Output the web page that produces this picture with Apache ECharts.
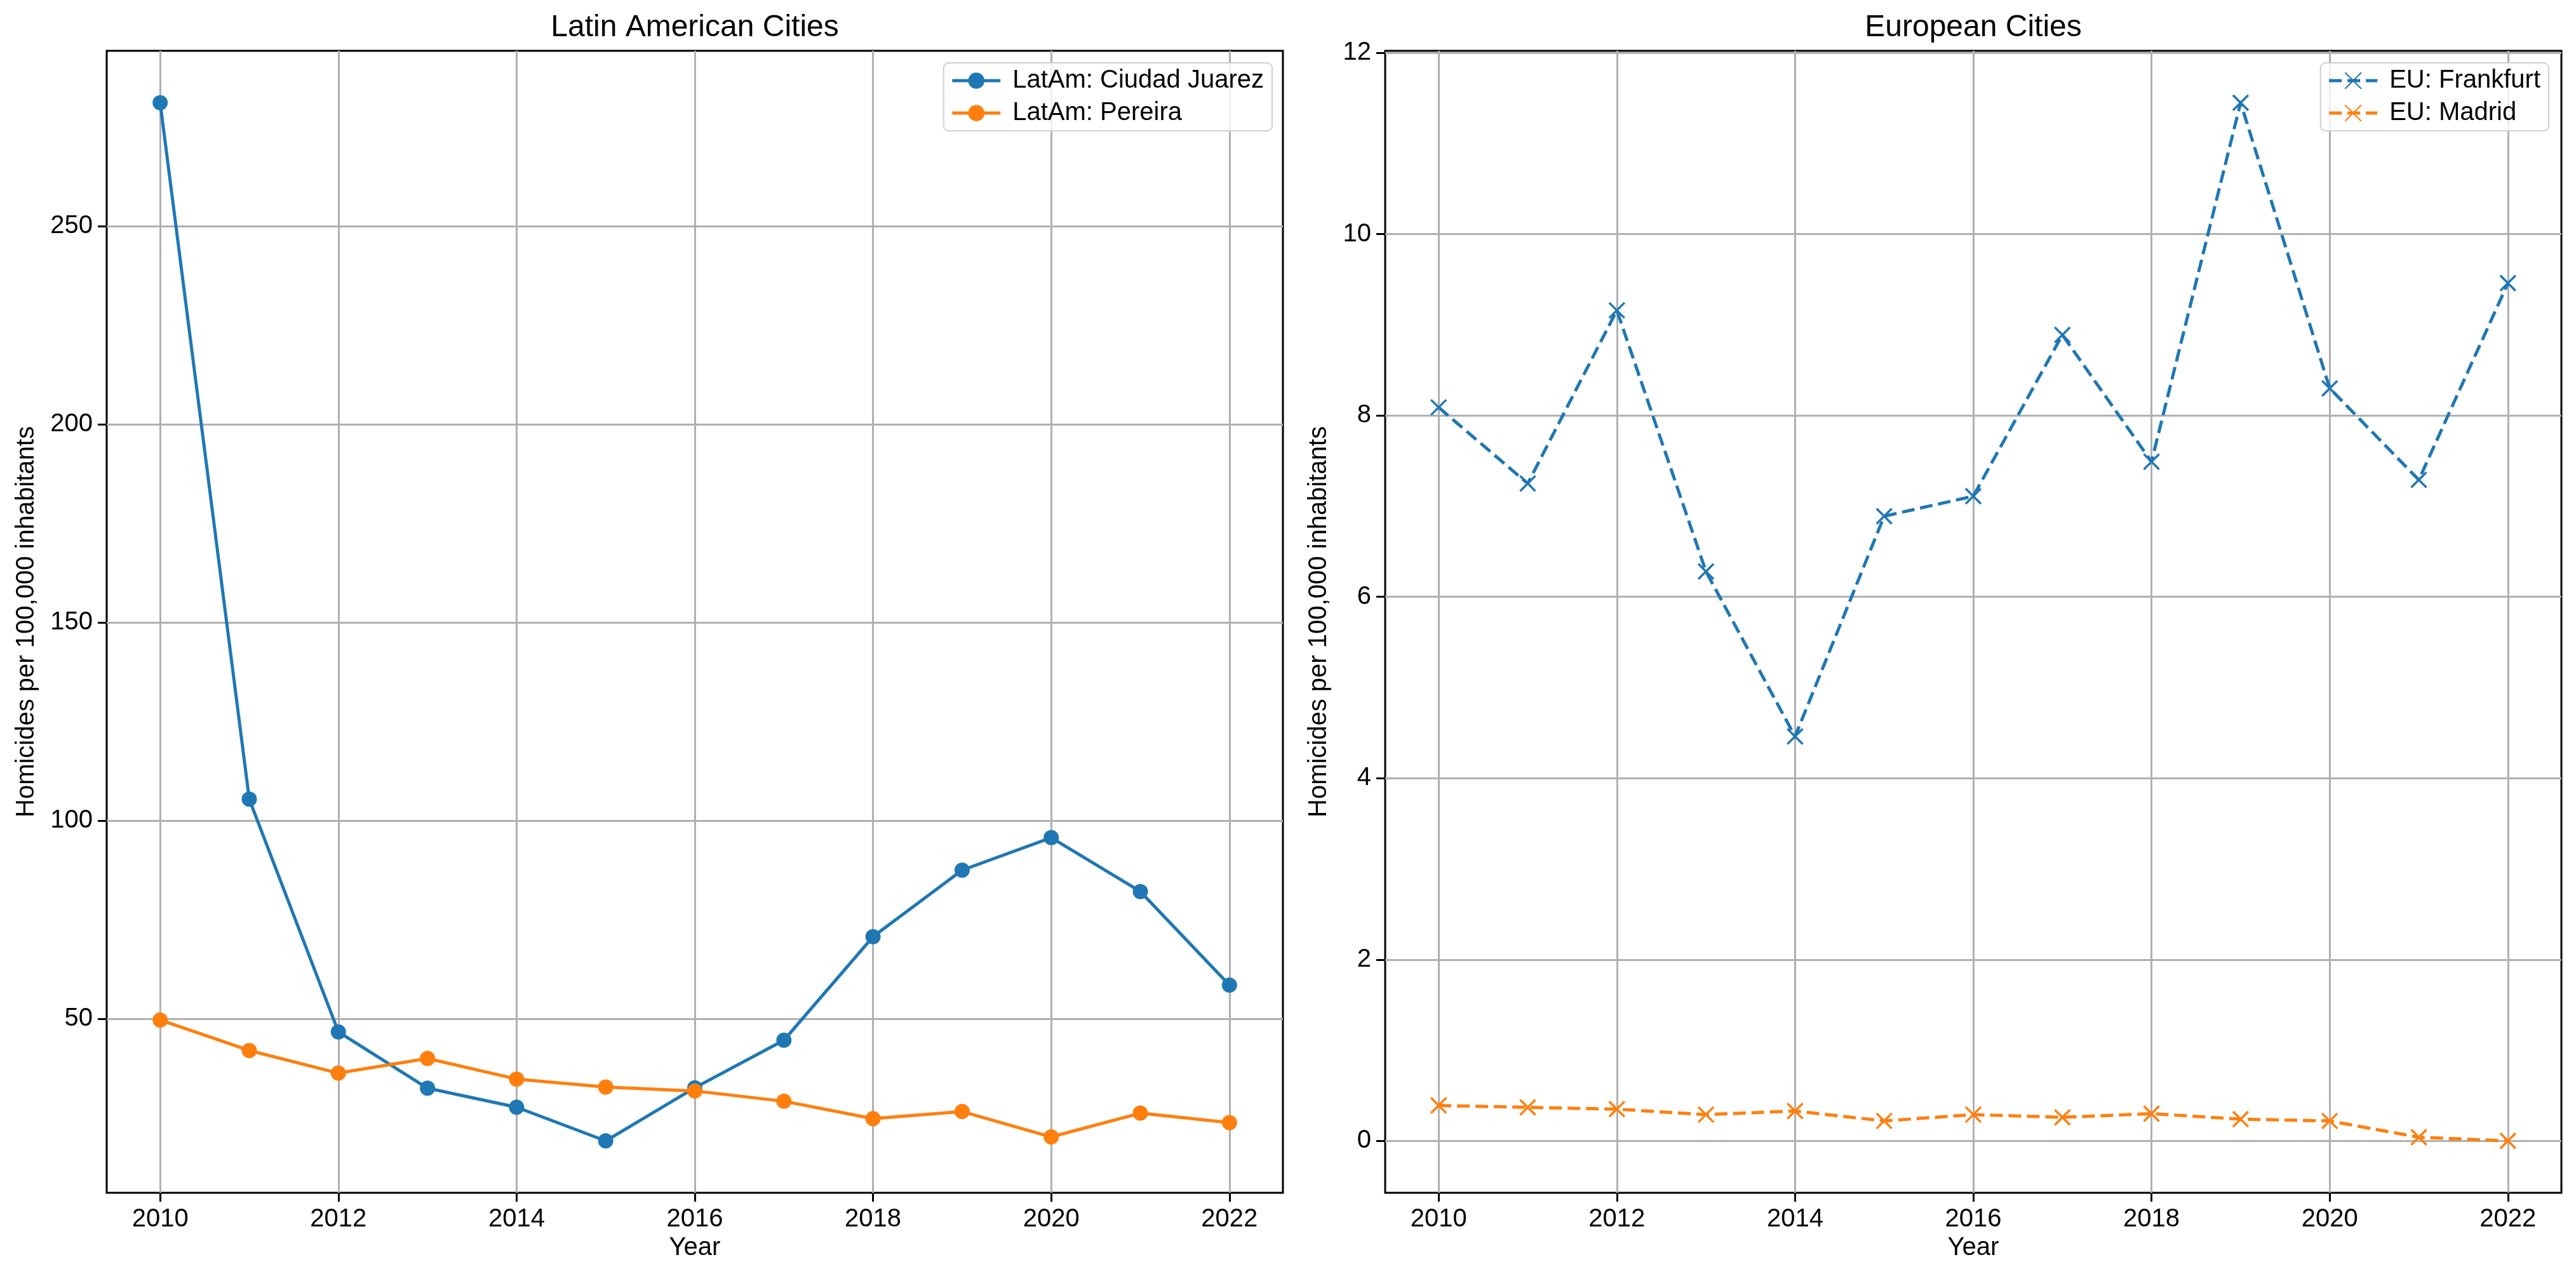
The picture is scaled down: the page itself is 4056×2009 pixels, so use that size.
<!DOCTYPE html>
<html>
<head>
<meta charset="utf-8">
<script src="https://cdn.jsdelivr.net/npm/echarts@6/dist/echarts.min.js"></script>
<style>
html,body{margin:0;padding:0;background:#fff;}
#c{width:4056px;height:2009px;}
</style>
</head>
<body>
<div id="c"></div>
<script>
const years = [2010,2011,2012,2013,2014,2015,2016,2017,2018,2019,2020,2021,2022];
const xTicks = [2010,2012,2014,2016,2018,2020,2022];
const juarez = [281.1,105.4,46.7,32.5,27.7,19.2,32.6,44.6,70.7,87.5,95.7,82.1,58.5];
const pereira = [49.7,42.0,36.3,40.0,34.8,32.8,31.8,29.2,24.8,26.6,20.2,26.2,23.8];
const frankfurt = [8.09,7.25,9.16,6.28,4.46,6.89,7.11,8.89,7.49,11.45,8.30,7.29,9.46];
const madrid = [0.39,0.37,0.35,0.29,0.33,0.22,0.29,0.26,0.30,0.24,0.22,0.04,0.00];
const yTicksLeft = [50,100,150,200,250];
const yTicksRight = [0,2,4,6,8,10,12];

const BLUE = '#1f77b4', ORANGE = '#ff7f0e';
const FONT = 'Liberation Sans';

function bounds(arrs){
  const all = [].concat(...arrs);
  const mn = Math.min(...all), mx = Math.max(...all);
  const m = (mx - mn) * 0.05;
  return [mn - m, mx + m];
}
const xb = bounds([years]);
const yl = bounds([juarez, pereira]);
const yr = bounds([frankfurt, madrid]);

const pairs = (ys) => years.map((y,i)=>[y, ys[i]]);
const XMARK = 'path://M0,0L10,10M10,0L0,10';

function xAxisDef(gi){
  return {
    type:'value', gridIndex:gi, min:xb[0], max:xb[1],
    name:'Year', nameLocation:'middle', nameGap:64,
    nameTextStyle:{fontSize:40, fontFamily:FONT, color:'#000'},
    axisLine:{show:false, onZero:false},
    axisTick:{show:true, length:14, lineStyle:{color:'#000', width:3}, customValues:xTicks},
    axisLabel:{fontSize:40, fontFamily:FONT, color:'#000', margin:22, customValues:xTicks, formatter:v=>String(v)},
    splitLine:{show:true, lineStyle:{color:'#b0b0b0', width:3}}
  };
}
function yAxisDef(gi, b, ticks, gap){
  return {
    type:'value', gridIndex:gi, min:b[0], max:b[1],
    name:'Homicides per 100,000 inhabitants', nameLocation:'middle', nameGap:gap,
    nameTextStyle:{fontSize:40, fontFamily:FONT, color:'#000'},
    axisLine:{show:false, onZero:false},
    axisTick:{show:true, length:14, lineStyle:{color:'#000', width:3}, customValues:ticks},
    axisLabel:{fontSize:40, fontFamily:FONT, color:'#000', margin:22, customValues:ticks, formatter:v=>String(v)},
    splitLine:{show:true, lineStyle:{color:'#b0b0b0', width:3}}
  };
}
function legendDef(names, rightPos){
  return {
    data:names, orient:'vertical', right:rightPos, top:99,
    itemWidth:76, itemHeight:32, itemGap:11, padding:[8,13,8,11],
    borderColor:'#d0d0d0', borderWidth:2, borderRadius:8, backgroundColor:'rgba(255,255,255,0.8)',
    lineStyle:{width:5},
    textStyle:{fontSize:40, fontFamily:FONT, color:'#000', padding:[0,0,0,14]}
  };
}

const chart = echarts.init(document.getElementById('c'), null, {renderer:'canvas'});
chart.setOption({
  animation:false,
  backgroundColor:'#fff',
  title:[
    {text:'Latin American Cities', left:1094, top:20, textAlign:'center', padding:0,
     textStyle:{fontSize:48, fontWeight:'normal', fontFamily:FONT, color:'#000'}},
    {text:'European Cities', left:3107, top:20, textAlign:'center', padding:0,
     textStyle:{fontSize:48, fontWeight:'normal', fontFamily:FONT, color:'#000'}}
  ],
  grid:[
    {left:168, right:4056-2020, top:80, bottom:2009-1878, show:true, borderColor:'#000', borderWidth:3, containLabel:false},
    {left:2181, right:4056-4033, top:80, bottom:2009-1878, show:true, borderColor:'#000', borderWidth:3, containLabel:false}
  ],
  legend:[
    legendDef(['LatAm: Ciudad Juarez','LatAm: Pereira'], 4056-2003),
    legendDef(['EU: Frankfurt','EU: Madrid'], 4056-4013)
  ],
  xAxis:[xAxisDef(0), xAxisDef(1)],
  yAxis:[yAxisDef(0, yl, yTicksLeft, 106), yAxisDef(1, yr, yTicksRight, 84)],
  series:[
    {name:'LatAm: Ciudad Juarez', type:'line', xAxisIndex:0, yAxisIndex:0, data:pairs(juarez),
     symbol:'circle', symbolSize:24, lineStyle:{color:BLUE, width:5}, itemStyle:{color:BLUE}},
    {name:'LatAm: Pereira', type:'line', xAxisIndex:0, yAxisIndex:0, data:pairs(pereira),
     symbol:'circle', symbolSize:24, lineStyle:{color:ORANGE, width:5}, itemStyle:{color:ORANGE}},
    {name:'EU: Frankfurt', type:'line', xAxisIndex:1, yAxisIndex:1, data:pairs(frankfurt),
     symbol:XMARK, symbolSize:24, lineStyle:{color:BLUE, width:5, type:[20,9]},
     itemStyle:{color:BLUE, borderColor:BLUE, borderWidth:3.5}},
    {name:'EU: Madrid', type:'line', xAxisIndex:1, yAxisIndex:1, data:pairs(madrid),
     symbol:XMARK, symbolSize:24, lineStyle:{color:ORANGE, width:5, type:[20,9]},
     itemStyle:{color:ORANGE, borderColor:ORANGE, borderWidth:3.5}}
  ]
});
</script>
</body>
</html>
